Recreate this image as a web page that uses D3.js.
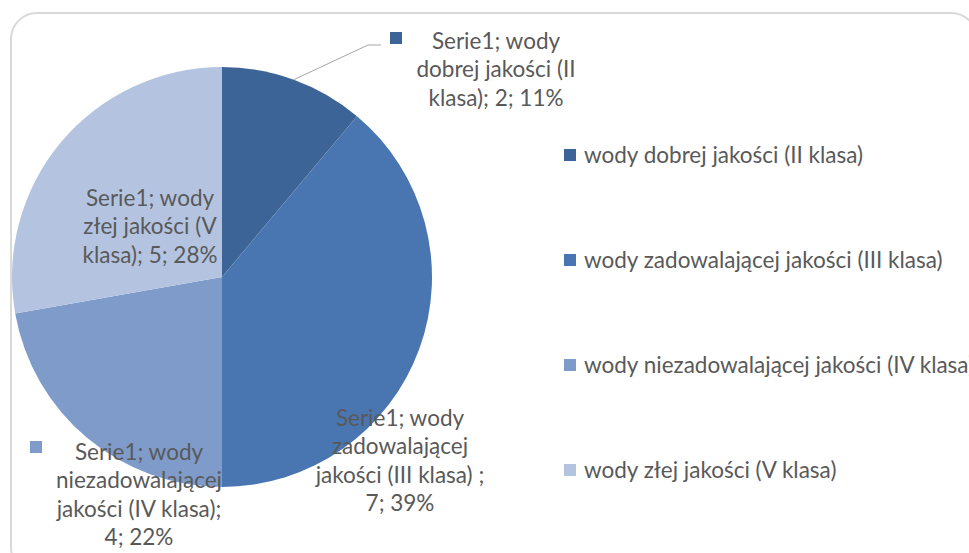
<!DOCTYPE html>
<html>
<head>
<meta charset="utf-8">
<script src="https://cdn.jsdelivr.net/npm/d3@7"></script>
<style>
  html, body { margin: 0; padding: 0; background: #fff; overflow: hidden; }
  svg { display: block; }
  text { font-family: Lato, "Open Sans", sans-serif; fill: #595959; }
</style>
</head>
<body>
<svg id="chart" width="969" height="553"></svg>
<script>
// Water quality classes and counts (series "Serie1")
const seriesName = "Serie1";
const categories = [
  "wody dobrej jakości (II klasa)",
  "wody zadowalającej jakości (III klasa)",
  "wody niezadowalającej jakości (IV klasa)",
  "wody złej jakości (V klasa)"
];
const values = [2, 7, 4, 5];
const colors = ["#3D6497", "#4976B0", "#7E9BCA", "#B4C4E0"];

// Wrapped data-label lines as they appear on the chart
const labelLines = [
  ["Serie1; wody", "dobrej jakości (II", "klasa); 2; 11%"],
  ["Serie1; wody", "zadowalającej", "jakości (III klasa) ;", "7; 39%"],
  ["Serie1; wody", "niezadowalającej", "jakości (IV klasa);", "4; 22%"],
  ["Serie1; wody", "złej jakości (V", "klasa); 5; 28%"]
];

// Layout of label blocks: center x, first-line center y, optional legend key
const labelLayout = [
  { x: 496, y: 41, key: { x: 390, y: 32 }, leader: true },
  { x: 400, y: 418, key: null },
  { x: 139, y: 452, key: { x: 30, y: 441 } },
  { x: 150, y: 198, key: null }
];

const svg = d3.select("#chart");

// Chart area frame
svg.append("rect")
  .attr("x", 11).attr("y", 13)
  .attr("width", 966).attr("height", 560)
  .attr("rx", 26).attr("ry", 26)
  .attr("fill", "#fff")
  .attr("stroke", "#d9d9d9")
  .attr("stroke-width", 2);

const cx = 222, cy = 277, r = 210;

const pie = d3.pie().sort(null).value(d => d)(values);
const arc = d3.arc().innerRadius(0).outerRadius(r);

const g = svg.append("g").attr("transform", `translate(${cx},${cy})`);
g.selectAll("path.slice")
  .data(pie)
  .join("path")
  .attr("class", "slice")
  .attr("d", arc)
  .attr("fill", (d, i) => colors[i]);

const fontSize = 22.5, lineH = 28.5;

// Leader line for the first slice's label
pie.forEach((d, i) => {
  const L = labelLayout[i];
  if (L.leader) {
    const mid = (d.startAngle + d.endAngle) / 2;
    const ex = cx + r * Math.sin(mid), ey = cy - r * Math.cos(mid);
    svg.append("polyline")
      .attr("points", `${ex},${ey} ${368},${45} ${381},${45}`)
      .attr("fill", "none")
      .attr("stroke", "#a6a6a6")
      .attr("stroke-width", 1);
  }
});

// Data labels
pie.forEach((d, i) => {
  const L = labelLayout[i];
  const t = svg.append("text")
    .attr("text-anchor", "middle")
    .attr("font-size", fontSize);
  labelLines[i].forEach((line, k) => {
    t.append("tspan")
      .attr("x", L.x)
      .attr("y", L.y + k * lineH)
      .attr("dy", "0.35em")
      .text(line);
  });
  if (L.key) {
    svg.append("rect")
      .attr("x", L.key.x).attr("y", L.key.y)
      .attr("width", 12).attr("height", 12)
      .attr("fill", colors[i]);
  }
});

// Legend
const legendY = d3.scalePoint().domain(categories).range([155, 470]);
const leg = svg.append("g");
categories.forEach((c, i) => {
  const y = legendY(c);
  leg.append("rect")
    .attr("x", 564).attr("y", y - 6)
    .attr("width", 12).attr("height", 12)
    .attr("fill", colors[i]);
  leg.append("text")
    .attr("x", 584).attr("y", y)
    .attr("dy", "0.35em")
    .attr("font-size", fontSize)
    .text(c);
});
</script>
</body>
</html>
